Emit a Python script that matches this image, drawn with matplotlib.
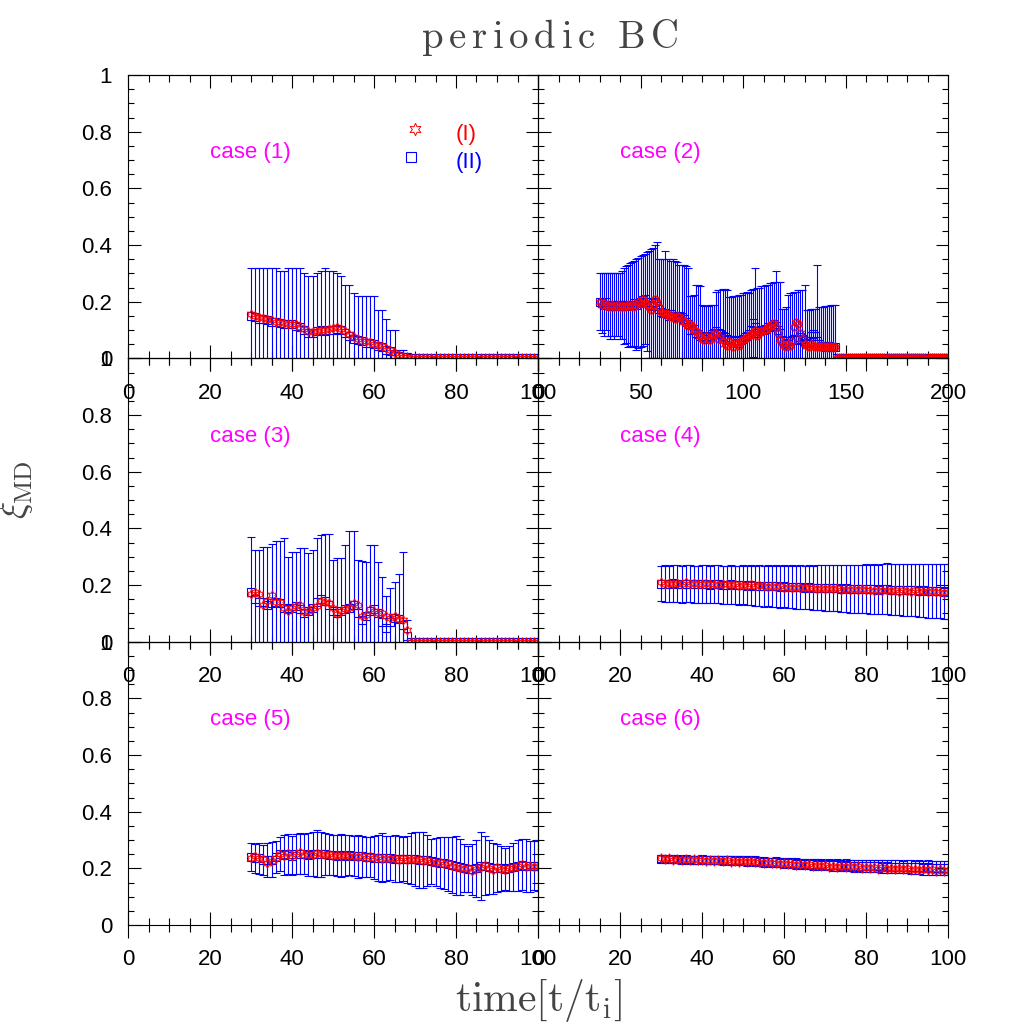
import numpy as np
import matplotlib
matplotlib.use("Agg")
import matplotlib.pyplot as plt
from matplotlib.ticker import MultipleLocator, FuncFormatter

plt.rcParams['font.family'] = ['Liberation Sans', 'DejaVu Sans']
plt.rcParams['mathtext.fontset'] = 'cm'

# ---- data (t starts at 30, step 1) ----
# case (1)
p1_I = [0.155, 0.148, 0.145, 0.142, 0.140, 0.135, 0.130, 0.128, 0.125, 0.122,
        0.120, 0.120, 0.112, 0.105, 0.095, 0.092, 0.098, 0.100, 0.100, 0.105,
        0.108, 0.110, 0.105, 0.095, 0.085, 0.075, 0.068, 0.062, 0.060, 0.058,
        0.052, 0.048, 0.042, 0.035, 0.028, 0.018, 0.012, 0.006, 0.003, 0.0] + [0.0] * 31
p1_II = [0.150, 0.145, 0.140, 0.140, 0.135, 0.130, 0.130, 0.125, 0.120, 0.120,
         0.120, 0.115, 0.110, 0.100, 0.090, 0.090, 0.095, 0.100, 0.095, 0.100,
         0.100, 0.105, 0.100, 0.090, 0.080, 0.070, 0.065, 0.060, 0.055, 0.055,
         0.050, 0.045, 0.040, 0.030, 0.025, 0.015, 0.010, 0.005, 0.003, 0.0] + [0.0] * 31
p1_err = [0.170, 0.175, 0.180, 0.180, 0.185, 0.190, 0.190, 0.185, 0.190, 0.200,
          0.200, 0.205, 0.210, 0.200, 0.200, 0.200, 0.205, 0.210, 0.225, 0.210,
          0.210, 0.195, 0.190, 0.170, 0.180, 0.160, 0.155, 0.160, 0.165, 0.165,
          0.170, 0.125, 0.130, 0.110, 0.075, 0.085, 0.020, 0.025, 0.017, 0.0] + [0.0] * 31

# case (2)
p2_I = [0.200, 0.190, 0.195, 0.185, 0.190, 0.180, 0.190, 0.180, 0.185, 0.190,
        0.180, 0.185, 0.180, 0.185, 0.190, 0.185, 0.190, 0.180, 0.190, 0.200,
        0.195, 0.210, 0.200, 0.190, 0.180, 0.170, 0.190, 0.210, 0.200, 0.180,
        0.165, 0.160, 0.155, 0.160, 0.150, 0.145, 0.150, 0.140, 0.150, 0.145,
        0.140, 0.130, 0.125, 0.115, 0.120, 0.115, 0.100, 0.095, 0.090, 0.080,
        0.070, 0.065, 0.080, 0.070, 0.065, 0.080, 0.090, 0.085, 0.070, 0.075,
        0.060, 0.050, 0.045, 0.060, 0.050, 0.040, 0.055, 0.050, 0.045, 0.060,
        0.065, 0.070, 0.075, 0.080, 0.085, 0.090, 0.100, 0.080, 0.090, 0.095,
        0.100, 0.100, 0.110, 0.115, 0.120, 0.125, 0.110, 0.090, 0.065, 0.055,
        0.045, 0.040, 0.050, 0.045, 0.060, 0.110, 0.130, 0.120, 0.090, 0.070,
        0.050, 0.045, 0.040, 0.050, 0.045, 0.040, 0.045, 0.040, 0.040, 0.045,
        0.040, 0.040, 0.045, 0.040, 0.040, 0.040] + [0.0] * 55
p2_II = [0.200, 0.195, 0.190, 0.200, 0.190, 0.185, 0.190, 0.185, 0.190, 0.190,
         0.185, 0.190, 0.185, 0.190, 0.185, 0.190, 0.190, 0.195, 0.190, 0.195,
         0.200, 0.205, 0.210, 0.200, 0.190, 0.185, 0.195, 0.200, 0.185, 0.175,
         0.165, 0.160, 0.160, 0.155, 0.150, 0.155, 0.150, 0.150, 0.145, 0.150,
         0.145, 0.140, 0.130, 0.120, 0.100, 0.100, 0.105, 0.090, 0.085, 0.080,
         0.075, 0.080, 0.070, 0.075, 0.080, 0.085, 0.090, 0.095, 0.090, 0.085,
         0.080, 0.075, 0.070, 0.065, 0.060, 0.065, 0.060, 0.055, 0.060, 0.065,
         0.070, 0.075, 0.080, 0.085, 0.100, 0.125, 0.110, 0.090, 0.095, 0.100,
         0.100, 0.105, 0.110, 0.110, 0.115, 0.120, 0.115, 0.100, 0.090, 0.065,
         0.060, 0.055, 0.050, 0.060, 0.065, 0.070, 0.065, 0.070, 0.075, 0.070,
         0.060, 0.055, 0.060, 0.080, 0.085, 0.080, 0.060, 0.050, 0.045, 0.045,
         0.040, 0.040, 0.045, 0.040, 0.040, 0.040] + [0.0] * 55
p2_err = [0.100, 0.105, 0.110, 0.100, 0.110, 0.115, 0.110, 0.115, 0.110, 0.110,
          0.115, 0.120, 0.135, 0.135, 0.145, 0.145, 0.150, 0.150, 0.160, 0.160,
          0.160, 0.160, 0.160, 0.175, 0.190, 0.200, 0.195, 0.200, 0.225, 0.175,
          0.185, 0.190, 0.220, 0.195, 0.200, 0.190, 0.200, 0.195, 0.195, 0.180,
          0.185, 0.190, 0.195, 0.200, 0.120, 0.120, 0.120, 0.170, 0.175, 0.175,
          0.115, 0.105, 0.115, 0.110, 0.110, 0.105, 0.100, 0.140, 0.150, 0.155,
          0.165, 0.170, 0.170, 0.150, 0.155, 0.155, 0.160, 0.165, 0.165, 0.160,
          0.160, 0.155, 0.155, 0.145, 0.140, 0.120, 0.210, 0.160, 0.155, 0.155,
          0.155, 0.155, 0.150, 0.155, 0.150, 0.150, 0.195, 0.170, 0.180, 0.110,
          0.115, 0.125, 0.175, 0.170, 0.165, 0.165, 0.170, 0.170, 0.165, 0.170,
          0.200, 0.115, 0.110, 0.095, 0.090, 0.095, 0.270, 0.130, 0.135, 0.135,
          0.145, 0.145, 0.140, 0.150, 0.150, 0.150] + [0.0] * 55

# case (3)
p3_I = [0.170, 0.175, 0.170, 0.130, 0.145, 0.165, 0.140, 0.140, 0.120, 0.110,
        0.120, 0.125, 0.130, 0.105, 0.110, 0.120, 0.125, 0.145, 0.140, 0.135,
        0.120, 0.097, 0.110, 0.115, 0.120, 0.135, 0.130, 0.090, 0.095, 0.115,
        0.110, 0.100, 0.100, 0.090, 0.085, 0.090, 0.080, 0.075, 0.040] + [0.0] * 32
p3_II = [0.175, 0.150, 0.140, 0.140, 0.130, 0.135, 0.140, 0.135, 0.120, 0.115,
         0.120, 0.125, 0.115, 0.100, 0.110, 0.120, 0.140, 0.150, 0.145, 0.130,
         0.110, 0.100, 0.110, 0.115, 0.120, 0.130, 0.100, 0.075, 0.090, 0.110,
         0.115, 0.100, 0.070, 0.050, 0.070, 0.085, 0.080, 0.060, 0.020] + [0.0] * 32
p3_err = [0.195, 0.175, 0.185, 0.195, 0.205, 0.210, 0.215, 0.220, 0.245, 0.185,
          0.195, 0.190, 0.215, 0.230, 0.203, 0.205, 0.225, 0.225, 0.235, 0.250,
          0.180, 0.195, 0.185, 0.225, 0.270, 0.260, 0.190, 0.210, 0.190, 0.230,
          0.225, 0.180, 0.160, 0.110, 0.120, 0.125, 0.160, 0.255, 0.055] + [0.0] * 32

# case (4)
p4_I = [0.210, 0.205, 0.208, 0.203, 0.207, 0.204, 0.209, 0.203, 0.206, 0.202,
        0.205, 0.208, 0.202, 0.204, 0.200, 0.203, 0.205, 0.199, 0.202, 0.198,
        0.200, 0.197, 0.202, 0.196, 0.199, 0.195, 0.193, 0.197, 0.192, 0.195,
        0.191, 0.194, 0.190, 0.193, 0.189, 0.192, 0.188, 0.191, 0.187, 0.190,
        0.186, 0.189, 0.185, 0.188, 0.183, 0.186, 0.184, 0.187, 0.182, 0.185,
        0.181, 0.184, 0.178, 0.183, 0.180, 0.184, 0.179, 0.182, 0.177, 0.181,
        0.179, 0.176, 0.181, 0.175, 0.179, 0.176, 0.178, 0.174, 0.177, 0.172,
        0.175]
p4_II = [0.205, 0.205, 0.204, 0.206, 0.205, 0.203, 0.204, 0.205, 0.203, 0.202,
         0.204, 0.203, 0.201, 0.202, 0.203, 0.200, 0.201, 0.202, 0.200, 0.199,
         0.201, 0.198, 0.199, 0.197, 0.198, 0.196, 0.197, 0.195, 0.196, 0.194,
         0.195, 0.193, 0.194, 0.192, 0.193, 0.191, 0.192, 0.190, 0.191, 0.190,
         0.189, 0.190, 0.188, 0.189, 0.187, 0.188, 0.186, 0.187, 0.185, 0.186,
         0.187, 0.185, 0.186, 0.184, 0.185, 0.186, 0.184, 0.183, 0.184, 0.182,
         0.183, 0.181, 0.182, 0.180, 0.181, 0.179, 0.180, 0.178, 0.179, 0.177,
         0.178]
p4_err = [0.063, 0.064, 0.064, 0.065, 0.064, 0.065, 0.065, 0.066, 0.065, 0.066,
          0.066, 0.067, 0.066, 0.067, 0.067, 0.068, 0.067, 0.068, 0.068, 0.069,
          0.069, 0.070, 0.070, 0.071, 0.071, 0.072, 0.072, 0.073, 0.073, 0.074,
          0.074, 0.075, 0.076, 0.076, 0.077, 0.077, 0.078, 0.078, 0.079, 0.079,
          0.080, 0.081, 0.081, 0.082, 0.083, 0.083, 0.084, 0.085, 0.085, 0.086,
          0.087, 0.087, 0.088, 0.088, 0.089, 0.090, 0.090, 0.090, 0.091, 0.091,
          0.092, 0.092, 0.093, 0.093, 0.094, 0.094, 0.095, 0.095, 0.096, 0.096,
          0.097]

# case (5)
p5_I = [0.235, 0.242, 0.238, 0.232, 0.220, 0.225, 0.238, 0.252, 0.245, 0.255,
        0.243, 0.250, 0.256, 0.248, 0.252, 0.247, 0.255, 0.250, 0.246, 0.252,
        0.244, 0.248, 0.243, 0.247, 0.242, 0.245, 0.240, 0.244, 0.238, 0.242,
        0.236, 0.239, 0.233, 0.237, 0.232, 0.236, 0.230, 0.235, 0.228, 0.232,
        0.229, 0.233, 0.226, 0.230, 0.222, 0.218, 0.224, 0.214, 0.218, 0.210,
        0.205, 0.200, 0.196, 0.202, 0.190, 0.198, 0.205, 0.212, 0.200, 0.195,
        0.203, 0.198, 0.194, 0.202, 0.200, 0.208, 0.214, 0.206, 0.210, 0.204,
        0.207]
p5_II = [0.240, 0.235, 0.235, 0.230, 0.228, 0.230, 0.240, 0.250, 0.248, 0.250,
         0.245, 0.250, 0.252, 0.250, 0.248, 0.250, 0.252, 0.250, 0.250, 0.248,
         0.247, 0.245, 0.246, 0.245, 0.246, 0.244, 0.242, 0.243, 0.240, 0.240,
         0.238, 0.236, 0.238, 0.235, 0.236, 0.234, 0.233, 0.234, 0.232, 0.233,
         0.232, 0.230, 0.230, 0.228, 0.225, 0.222, 0.220, 0.218, 0.215, 0.212,
         0.210, 0.205, 0.200, 0.198, 0.196, 0.200, 0.208, 0.210, 0.205, 0.200,
         0.200, 0.200, 0.198, 0.200, 0.205, 0.210, 0.212, 0.210, 0.208, 0.210,
         0.210]
p5_err = [0.050, 0.052, 0.055, 0.053, 0.060, 0.062, 0.058, 0.060, 0.070, 0.070,
          0.068, 0.070, 0.072, 0.070, 0.075, 0.078, 0.082, 0.080, 0.075, 0.072,
          0.070, 0.072, 0.075, 0.072, 0.070, 0.070, 0.075, 0.072, 0.070, 0.072,
          0.075, 0.080, 0.085, 0.080, 0.078, 0.082, 0.080, 0.078, 0.082, 0.090,
          0.095, 0.100, 0.100, 0.090, 0.080, 0.085, 0.090, 0.092, 0.095, 0.100,
          0.105, 0.100, 0.085, 0.080, 0.090, 0.100, 0.120, 0.105, 0.095, 0.090,
          0.085, 0.080, 0.075, 0.080, 0.085, 0.090, 0.090, 0.095, 0.090, 0.088,
          0.090]

# case (6)
p6_I = [0.236, 0.232, 0.235, 0.231, 0.234, 0.229, 0.233, 0.228, 0.232, 0.229,
        0.231, 0.227, 0.230, 0.226, 0.229, 0.225, 0.228, 0.224, 0.227, 0.223,
        0.226, 0.222, 0.225, 0.221, 0.223, 0.219, 0.222, 0.218, 0.220, 0.216,
        0.219, 0.214, 0.217, 0.212, 0.215, 0.211, 0.214, 0.209, 0.212, 0.208,
        0.211, 0.206, 0.210, 0.205, 0.209, 0.204, 0.208, 0.203, 0.207, 0.202,
        0.206, 0.200, 0.204, 0.199, 0.203, 0.198, 0.202, 0.197, 0.201, 0.196,
        0.200, 0.195, 0.199, 0.194, 0.198, 0.193, 0.197, 0.192, 0.196, 0.191,
        0.195]
p6_II = [0.234, 0.233, 0.232, 0.233, 0.232, 0.231, 0.232, 0.231, 0.230, 0.231,
         0.232, 0.230, 0.229, 0.230, 0.229, 0.228, 0.229, 0.228, 0.227, 0.228,
         0.227, 0.226, 0.227, 0.226, 0.224, 0.223, 0.222, 0.221, 0.222, 0.220,
         0.219, 0.218, 0.219, 0.217, 0.216, 0.215, 0.216, 0.214, 0.213, 0.214,
         0.212, 0.213, 0.211, 0.212, 0.210, 0.211, 0.210, 0.209, 0.210, 0.208,
         0.209, 0.208, 0.207, 0.208, 0.206, 0.207, 0.206, 0.205, 0.206, 0.204,
         0.205, 0.204, 0.203, 0.204, 0.202, 0.203, 0.201, 0.202, 0.200, 0.201,
         0.200]
p6_err = [0.012, 0.012, 0.013, 0.012, 0.013, 0.013, 0.012, 0.013, 0.013, 0.014,
          0.013, 0.014, 0.014, 0.013, 0.014, 0.015, 0.014, 0.015, 0.015, 0.014,
          0.015, 0.016, 0.015, 0.016, 0.016, 0.017, 0.016, 0.017, 0.017, 0.016,
          0.017, 0.018, 0.017, 0.018, 0.018, 0.019, 0.018, 0.019, 0.019, 0.018,
          0.019, 0.020, 0.019, 0.020, 0.020, 0.021, 0.020, 0.021, 0.021, 0.020,
          0.021, 0.022, 0.021, 0.022, 0.022, 0.023, 0.022, 0.023, 0.023, 0.022,
          0.023, 0.024, 0.023, 0.024, 0.024, 0.025, 0.024, 0.025, 0.025, 0.024,
          0.025]

panels = [
    ('case (1)', p1_I, p1_II, p1_err, 100),
    ('case (2)', p2_I, p2_II, p2_err, 200),
    ('case (3)', p3_I, p3_II, p3_err, 100),
    ('case (4)', p4_I, p4_II, p4_err, 100),
    ('case (5)', p5_I, p5_II, p5_err, 100),
    ('case (6)', p6_I, p6_II, p6_err, 100),
]

W = 1035.0
fig = plt.figure(figsize=(10.35, 10.35), dpi=100)
gs = fig.add_gridspec(3, 2, left=128 / W, right=948 / W, top=1 - 75 / W,
                      bottom=1 - 925 / W, hspace=0, wspace=0)

star = (6, 1, 0)
fmt = FuncFormatter(lambda v, p: '%g' % v)

for i, (name, vI, vII, err, xmax) in enumerate(panels):
    row, col = divmod(i, 2)
    ax = fig.add_subplot(gs[row, col])
    ax.patch.set_visible(False)
    t = np.arange(30, 30 + len(vII))

    ax.errorbar(t, vII, yerr=err, fmt='none', ecolor='blue', elinewidth=0.8,
                capsize=3, capthick=0.8)
    ax.plot(t, vII, 's', mfc='none', mec='blue', ms=5.5, mew=0.8)
    ax.plot(t, vI, ls='none', marker=star, mfc='none', mec='red', ms=7, mew=0.7)

    ax.set_xlim(0, xmax)
    ax.set_ylim(0, 1)
    if xmax == 200:
        major, minor = 50, 10
    else:
        major, minor = 20, 5
    ax.xaxis.set_major_locator(MultipleLocator(major))
    ax.xaxis.set_minor_locator(MultipleLocator(minor))
    ax.yaxis.set_major_locator(MultipleLocator(0.2))
    ax.yaxis.set_minor_locator(MultipleLocator(0.05))
    ax.xaxis.set_major_formatter(fmt)
    ax.yaxis.set_major_formatter(fmt)

    ax.tick_params(axis='x', which='both', direction='inout', top=False,
                   bottom=True, labelsize=16, pad=8, width=0.8)
    ax.tick_params(axis='x', which='major', length=19)
    ax.tick_params(axis='x', which='minor', length=10)
    ax.tick_params(axis='y', which='both', direction='in', left=True,
                   right=True, labelsize=16, pad=11.5, width=0.8,
                   labelleft=(col == 0))
    ax.tick_params(axis='y', which='major', length=9)
    ax.tick_params(axis='y', which='minor', length=4.5)

    # ticks along the top edge point inwards only
    sec = ax.secondary_xaxis('top')
    sec.xaxis.set_major_locator(MultipleLocator(major))
    sec.xaxis.set_minor_locator(MultipleLocator(minor))
    sec.tick_params(axis='x', which='both', direction='in', labeltop=False, width=0.8)
    sec.tick_params(axis='x', which='major', length=9)
    sec.tick_params(axis='x', which='minor', length=5)

    for s in ax.spines.values():
        s.set_linewidth(0.8)

    ax.text(0.2, 0.725, name, transform=ax.transAxes, color='magenta',
            fontsize=16, va='center')

    if i == 0:
        ax.plot([0.70], [0.81], transform=ax.transAxes, ls='none', marker=star,
                mfc='none', mec='red', ms=9, mew=0.7, clip_on=False)
        ax.plot([0.69], [0.71], 's', transform=ax.transAxes, mfc='none',
                mec='blue', ms=6.5, mew=0.8, clip_on=False)
        ax.text(0.80, 0.79, '(I)', transform=ax.transAxes, color='red',
                fontsize=16, va='center')
        ax.text(0.80, 0.69, '(II)', transform=ax.transAxes, color='blue',
                fontsize=16, va='center')

fig.text(550 / W, 1 - 38 / W, r'$\mathrm{p\,e\,r\,i\,o\,d\,i\,c\ \ B\,C}$',
         fontsize=28, color='#444444', ha='center', va='center')
fig.text(538 / W, 1 - 1000 / W, r'$\mathrm{time[t/t_{i}]}$',
         fontsize=30, color='#444444', ha='center', va='center')
fig.text(17 / W, 1 - 490 / W, r'$\xi_{\mathrm{MD}}$', fontsize=26,
         color='#444444', ha='center', va='center', rotation=90)

fig.savefig('out.png', dpi=100)
